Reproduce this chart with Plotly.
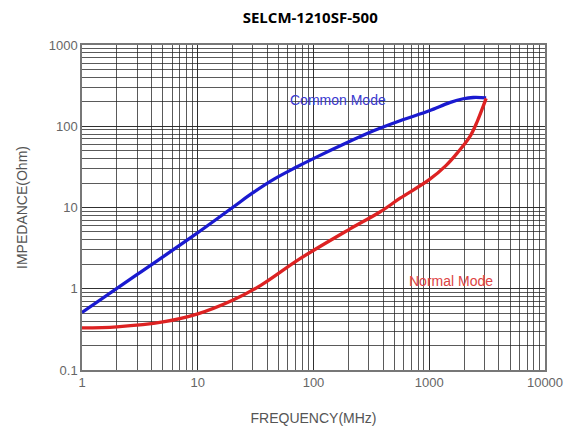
import plotly.graph_objects as go

# Data
freq_common = [1, 3, 9, 20, 30, 46, 70, 107, 200, 330, 560, 1000, 1500, 1970, 2400, 3100]
imp_common = [0.51, 1.5, 4.4, 10, 15.2, 22.5, 31, 42, 64, 88, 117, 155, 195, 218, 226, 224]

freq_normal = [1, 2, 5, 10, 20, 35, 76, 207, 375, 560, 1000, 1400, 1750, 2250, 2600, 3100]
imp_normal = [0.33, 0.34, 0.39, 0.49, 0.72, 1.1, 2.33, 5.45, 8.8, 13, 22, 33, 47, 75, 115, 220]

x_ticks = [1, 10, 100, 1000, 10000]
x_labels = ["1", "10", "100", "1000", "10000"]
y_ticks = [0.1, 1, 10, 100, 1000]
y_labels = ["0.1", "1", "10", "100", "1000"]

fig = go.Figure()
fig.add_trace(go.Scatter(x=freq_common, y=imp_common, mode="lines",
                         line=dict(color="#1a1ad0", width=3.3, shape="spline", smoothing=1.0),
                         name="Common Mode", showlegend=False))
fig.add_trace(go.Scatter(x=freq_normal, y=imp_normal, mode="lines",
                         line=dict(color="#dd2222", width=3.3, shape="spline", smoothing=1.0),
                         name="Normal Mode", showlegend=False))

grid_color = "rgba(35,35,35,0.75)"
font_fam = "Liberation Sans, Arial"
fig.update_xaxes(type="log", range=[0, 4], tickvals=x_ticks, ticktext=x_labels,
                 showgrid=True, gridcolor=grid_color, gridwidth=1.4,
                 minor=dict(showgrid=True, dtick="D1", gridcolor=grid_color, gridwidth=1.3, ticks=""),
                 showline=True, linecolor="#777", linewidth=1.5, mirror=True,
                 ticks="", zeroline=False, automargin=False,
                 tickfont=dict(family=font_fam, size=13, color="#666"),
                 title=dict(text="FREQUENCY(MHz)", font=dict(family=font_fam, size=14, color="#555"), standoff=24))
fig.update_yaxes(type="log", range=[-1, 3], tickvals=y_ticks, ticktext=y_labels,
                 showgrid=True, gridcolor=grid_color, gridwidth=1.4,
                 minor=dict(showgrid=True, dtick="D1", gridcolor=grid_color, gridwidth=1.3, ticks=""),
                 showline=True, linecolor="#777", linewidth=1.5, mirror=True,
                 ticks="", zeroline=False, automargin=False,
                 tickfont=dict(family=font_fam, size=13, color="#666"),
                 title=dict(text="IMPEDANCE(Ohm)", font=dict(family=font_fam, size=14, color="#555"), standoff=18))

fig.add_annotation(x=2.21, y=2.32, xref="x", yref="y", text="Common Mode", showarrow=False,
                   font=dict(family=font_fam, size=14, color="#3a3ad0"))
fig.add_annotation(x=3.19, y=0.1, xref="x", yref="y", text="Normal Mode", showarrow=False,
                   font=dict(family=font_fam, size=14, color="#dd4444"))

fig.update_layout(
    width=567, height=426,
    margin=dict(l=74, r=30, t=37, b=64),
    paper_bgcolor="white", plot_bgcolor="white",
    title=dict(text="<b>SELCM-1210SF-500</b>", x=0.533, xanchor="center", y=0.977, yanchor="middle",
               font=dict(family="Open Sans, Liberation Sans", size=15, color="black")),
)

fig.write_html("out.html")
